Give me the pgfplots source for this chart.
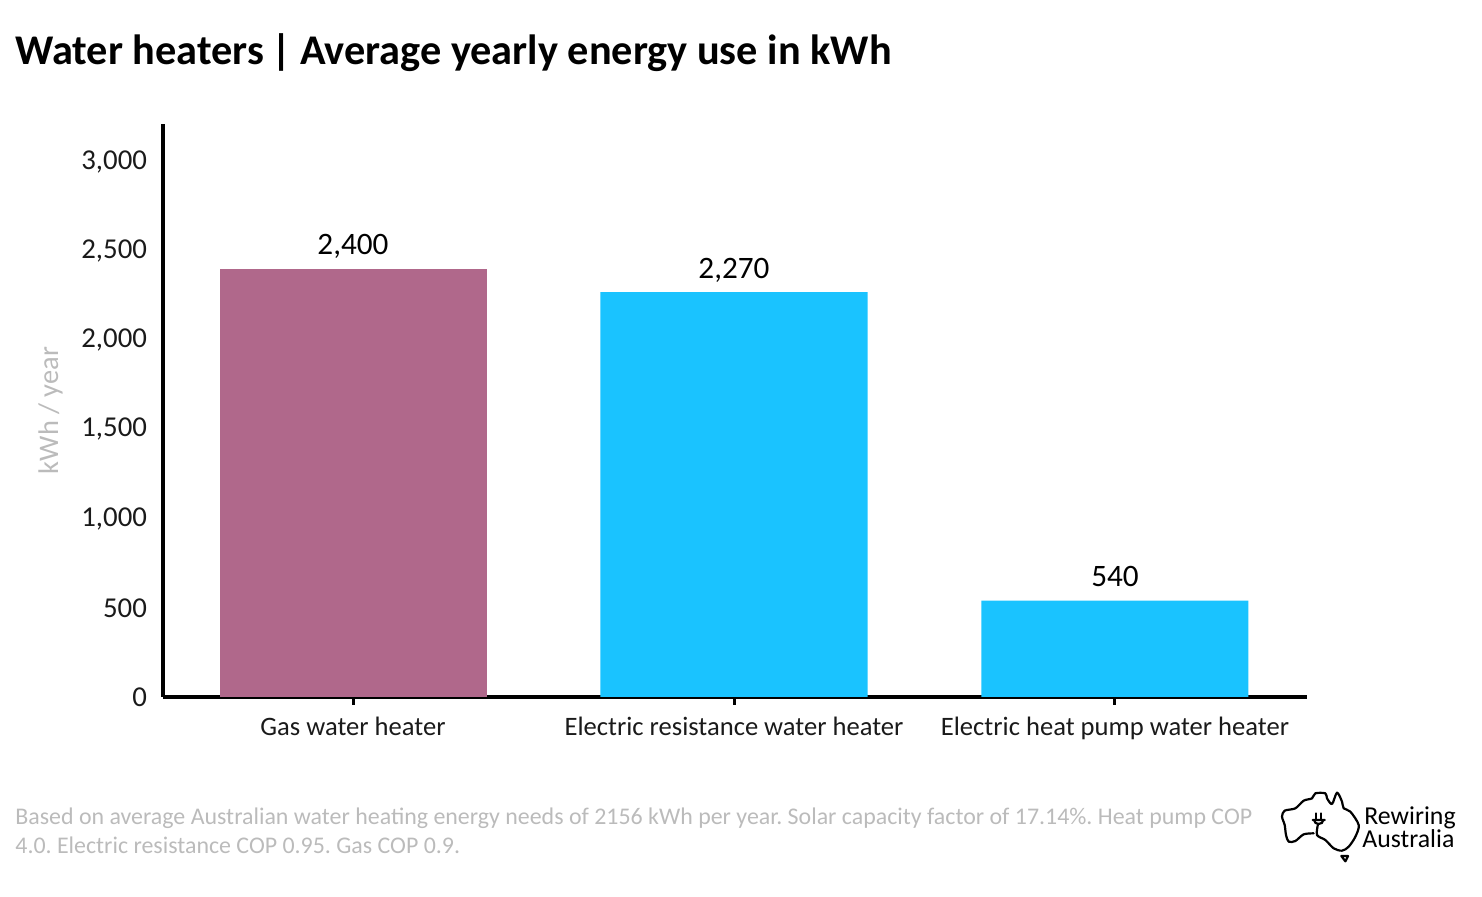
\documentclass[border=0pt]{standalone}
\usepackage{fontspec}
\setmainfont{Carlito}
\usepackage{pgfplots}
\pgfplotsset{compat=1.18}
\definecolor{gasplum}{HTML}{B0688B}
\definecolor{elecblue}{HTML}{1AC3FF}
\definecolor{footgrey}{HTML}{BBBBBB}
\definecolor{inkblack}{HTML}{1A1A1A}
\frenchspacing
\begin{document}
\begin{tikzpicture}
\path[use as bounding box] (0,0) rectangle (741pt,448.5pt);
\begin{axis}[
    at={(81.5pt,100pt)},
    anchor=south west,
    scale only axis,
    width=572pt,
    height=286.5pt,
    axis lines=left,
    axis line style={line width=1.75pt,-},
    xmin=-0.4987, xmax=2.504,
    ymin=0, ymax=3213,
    xtick={0,1,2},
    xticklabels={Gas water heater,Electric resistance water heater,Electric heat pump water heater},
    ytick={0,500,1000,1500,2000,2500,3000},
    tick align=outside,
    major tick length=4pt,
    x tick style={black,line width=1.5pt},
    y tick style={draw=none},
    /pgf/number format/assume math mode=true,
    /pgf/number format/1000 sep={,},
    scaled y ticks=false,
    ticklabel style={font=\fontsize{14.4}{17}\selectfont,text=inkblack},
    yticklabel style={xshift=-0.5pt},
    xticklabel style={font=\fontsize{13.3}{16}\selectfont,yshift=-2.5pt},
    ylabel={kWh / year},
    ylabel style={font=\fontsize{14.2}{17}\selectfont,text=footgrey,yshift=2.5pt},
    ybar,
    bar width=133.5pt,
    bar shift=0pt,
    nodes near coords,
    nodes near coords style={font=\fontsize{15.6}{19}\selectfont,text=black,text height=10pt,text depth=2.5pt,yshift=1pt},
]
\addplot[fill=gasplum,draw=none] coordinates {(0,2400)};
\addplot[fill=elecblue,draw=none] coordinates {(1,2270) (2,540)};
\end{axis}
\node[anchor=base west,inner sep=0pt,font=\fontsize{21.15}{25}\selectfont\bfseries] at (7.5pt,416pt) {Water heaters\hspace{4pt}|\hspace{4pt}Average yearly energy use in kWh};
\node[anchor=base west,inner sep=0pt,font=\fontsize{11.95}{15}\selectfont,text=footgrey] at (7.5pt,36pt) {Based on average Australian water heating energy needs of 2156 kWh per year. Solar capacity factor of 17.14\%. Heat pump COP};
\node[anchor=base west,inner sep=0pt,font=\fontsize{11.95}{15}\selectfont,text=footgrey] at (7.5pt,21.5pt) {4.0. Electric resistance COP 0.95. Gas COP 0.9.};
% logo
\begin{scope}[shift={(631pt,58.5pt)},x=0.1667pt,y=-0.1667pt,line width=1.1pt,line join=round,line cap=round]
\draw plot[smooth] coordinates {(155,160) (125,163) (100,183) (80,185) (72,165) (68,135) (60,110) (68,92) (100,85) (125,62) (150,55) (160,40) (190,40) (195,55) (210,72) (225,38) (240,65) (245,85) (265,95) (290,135) (280,170) (260,200) (240,212) (215,205) (190,180) (165,165) (168,132)};
\draw (152,120) -- (188,120) (156,120) to[out=-90,in=180] (170,132) to[out=0,in=-90] (184,120);
\draw (163,100) -- (163,116) (178,100) -- (178,116);
\draw (238,228) -- (258,228) -- (250,244) -- cycle;
\end{scope}
\node[anchor=base west,inner sep=0pt,font=\fontsize{12.9}{15}\selectfont] at (682pt,36pt) {Rewiring};
\node[anchor=base west,inner sep=0pt,font=\fontsize{12.9}{15}\selectfont] at (681pt,24.5pt) {Australia};
\end{tikzpicture}
\end{document}
